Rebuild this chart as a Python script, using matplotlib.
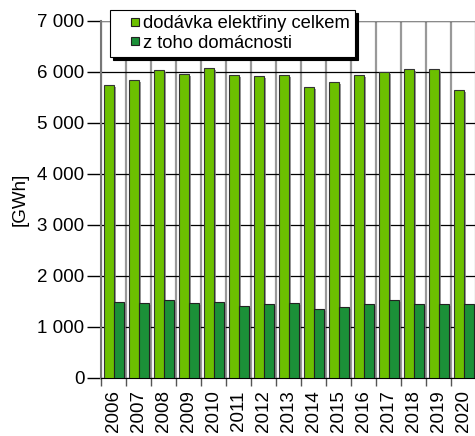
import numpy as np
import matplotlib.pyplot as plt
import matplotlib.patheffects as pe
from matplotlib.lines import Line2D
from matplotlib.ticker import FuncFormatter

plt.rcParams['font.family'] = ['Liberation Sans', 'DejaVu Sans']

roky = ['2006', '2007', '2008', '2009', '2010', '2011', '2012', '2013',
        '2014', '2015', '2016', '2017', '2018', '2019', '2020']
celkem = [5740, 5830, 6035, 5960, 6075, 5935, 5910, 5930,
          5700, 5805, 5930, 5995, 6060, 6060, 5635]
domacnosti = [1478, 1465, 1518, 1460, 1490, 1406, 1440, 1460,
              1348, 1388, 1440, 1518, 1452, 1452, 1446]
popisky = ['dodávka elektřiny celkem', 'z toho domácnosti']

c_svetla = '#6cc000'
c_tmava = '#1b9038'

fig = plt.figure(figsize=(4.75, 4.36), dpi=100)
ax = fig.add_axes([101/475, 0.1337, 1 - 101/475 + 0.002, 0.8188])

x = np.arange(len(roky))
stin = [pe.SimplePatchShadow(offset=(1.5, -1.5), shadow_rgbFace='#808080', alpha=0.8), pe.Normal()]
b1 = ax.bar(x - 0.19, celkem, 0.4, color=c_svetla, edgecolor='#333333', lw=0.8, zorder=3)
b2 = ax.bar(x + 0.21, domacnosti, 0.4, color=c_tmava, edgecolor='#222222', lw=0.8, zorder=3)
for b in list(b1) + list(b2):
    b.set_path_effects(stin)

ax.set_xlim(-0.5, 14.5)
ax.set_ylim(0, 7000)
ax.set_yticks(np.arange(0, 7001, 1000))
ax.yaxis.set_major_formatter(FuncFormatter(lambda v, p: f'{int(v):,}'.replace(',', ' ')))
ax.set_xticks(x)
ax.set_xticklabels(roky, rotation=90)
ax.set_xticks(np.arange(-0.5, 14.6, 1), minor=True)
ax.tick_params(axis='x', which='major', length=0, pad=9, labelsize=13.5)
ax.tick_params(axis='x', which='minor', length=6, width=1, color='#555555')
ax.tick_params(axis='y', length=10, width=1, labelsize=13.5, pad=2)

ax.grid(axis='y', color='black', lw=0.9, zorder=0)
ax.grid(axis='x', which='minor', color='#999999', lw=1.6, zorder=0)
ax.set_axisbelow(True)
for s in ['top', 'right']:
    ax.spines[s].set_visible(False)
ax.spines['left'].set_color('#777777')
ax.spines['left'].set_linewidth(1.5)
ax.axhline(7000, color='#8a8a8a', lw=1.5, zorder=1)

ax.set_ylabel('[GWh]', fontsize=13.5, labelpad=6)

znacky = [Line2D([], [], ls='none', marker='s', markersize=6, markerfacecolor=c,
                 markeredgecolor='#222222', markeredgewidth=0.8)
          for c in (c_svetla, c_tmava)]
leg = ax.legend(znacky, popisky, loc='upper left', bbox_to_anchor=(110/475, 1 - 10/436),
                bbox_transform=fig.transFigure, fontsize=13.2, frameon=True,
                fancybox=False, shadow={'color': 'black', 'alpha': 1},
                edgecolor='black', framealpha=1, handlelength=2.1,
                handletextpad=-0.62, labelspacing=0.12,
                borderpad=0.3, borderaxespad=0)
leg.get_frame().set_linewidth(0.8)
leg.set_zorder(5)

fig.savefig('out.png', dpi=100)
